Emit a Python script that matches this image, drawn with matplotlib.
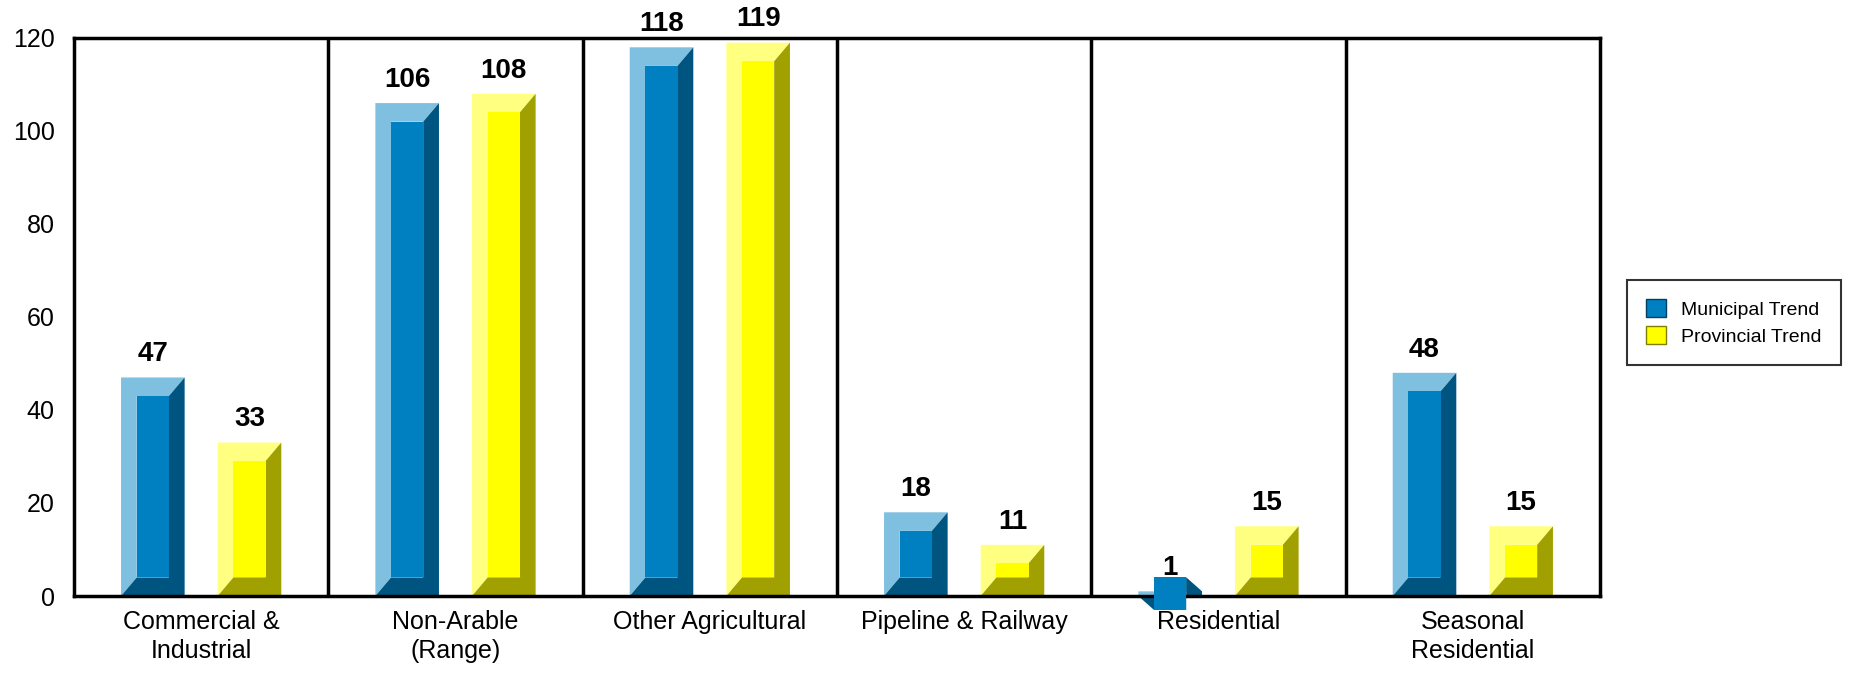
import matplotlib.pyplot as plt
from matplotlib.patches import Polygon, Rectangle

categories = ['Commercial &\nIndustrial', 'Non-Arable\n(Range)', 'Other Agricultural',
              'Pipeline & Railway', 'Residential', 'Seasonal\nResidential']
municipal = [47, 106, 118, 18, 1, 48]
provincial = [33, 108, 119, 11, 15, 15]

plt.rcParams['font.family'] = ['Liberation Sans', 'DejaVu Sans']

fig = plt.figure(figsize=(18.75, 6.73), dpi=100)
ax = fig.add_axes([74 / 1875, 1 - 596 / 673, (1600 - 74) / 1875, (596 - 38) / 673])

W = 0.25   # bar width (category units)
BX = 0.062  # horizontal bevel
BY = 4.0    # vertical bevel (data units)


def bevel_bar(x, v, light, face, dark):
    l, r = x - W / 2, x + W / 2
    il, ir = l + BX, r - BX
    ib, it = BY, v - BY
    if it < ib:
        ib, it = v - BY, BY
    ax.add_patch(Polygon([(l, 0), (l, v), (r, v), (ir, it), (il, it), (il, ib)],
                         closed=True, fc=light, ec='none', clip_on=False))
    ax.add_patch(Polygon([(l, 0), (r, 0), (r, v), (ir, it), (ir, ib), (il, ib)],
                         closed=True, fc=dark, ec='none', clip_on=False))
    ax.add_patch(Rectangle((il, ib), ir - il, it - ib, fc=face, ec='none',
                           clip_on=False, zorder=3))
    ax.text(x, v + 2.2, str(v), ha='center', va='bottom', fontsize=20, fontweight='bold')


for i, (m, p) in enumerate(zip(municipal, provincial)):
    bevel_bar(i - 0.19, m, '#7fbfdf', '#0080c0', '#005580')
    bevel_bar(i + 0.19, p, '#ffff80', '#ffff00', '#a0a000')

ax.set_xlim(-0.5, len(categories) - 0.5)
ax.set_ylim(0, 120)
ax.set_yticks(range(0, 121, 20))
ax.set_xticks(range(len(categories)))
ax.set_xticklabels(categories, linespacing=1.25)
ax.tick_params(length=0, labelsize=18, pad=10)
ax.tick_params(axis='y', pad=14)
for i in range(1, len(categories)):
    ax.axvline(i - 0.5, color='black', lw=2.5)
for s in ax.spines.values():
    s.set_linewidth(2.5)

handles = [Rectangle((0, 0), 1, 1, fc='#0080c0', ec='#004060'),
           Rectangle((0, 0), 1, 1, fc='#ffff00', ec='#808000')]
leg = fig.legend(handles, ['Municipal Trend', 'Provincial Trend'],
                 loc='upper left', bbox_to_anchor=(1617 / 1875, 1 - 270 / 673),
                 fontsize=14, frameon=True, fancybox=False, edgecolor='black',
                 handlelength=1.0, handleheight=1.0, borderpad=1.0, labelspacing=0.4)
leg.get_frame().set_linewidth(1.5)

fig.savefig('out.png', dpi=100)
